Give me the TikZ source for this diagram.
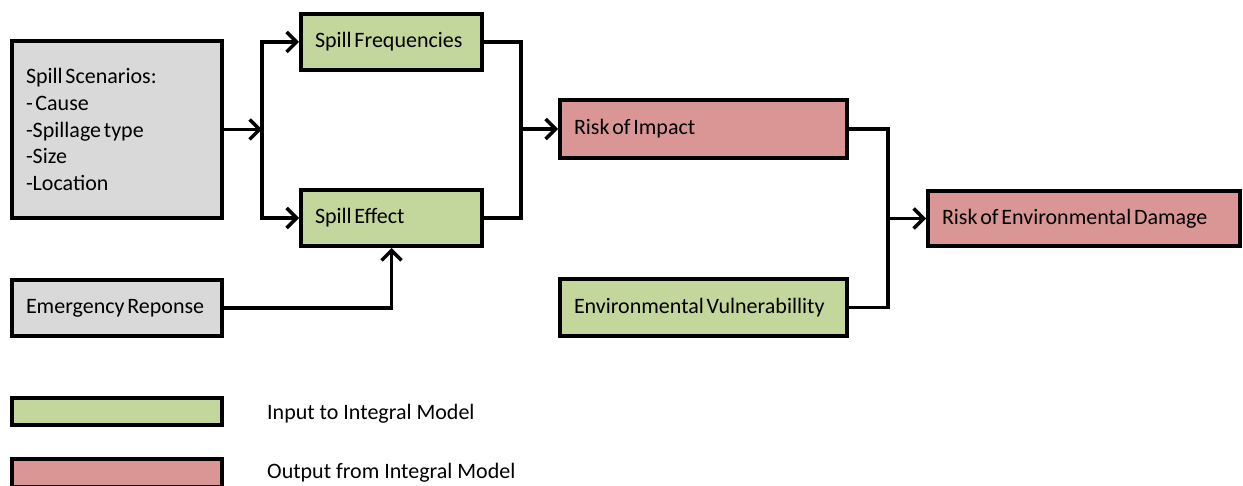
\documentclass[tikz,border=0pt]{standalone}
\usepackage{fontspec}
\setmainfont{Carlito}[WordSpace=0.55]
\newfontfamily\legendfont{Carlito}
\usetikzlibrary{arrows.meta}
\definecolor{boxgrey}{HTML}{D9D9D9}
\definecolor{boxgreen}{HTML}{C3D69B}
\definecolor{boxred}{HTML}{D99694}
\tikzset{
  box/.style={draw=black, line width=4pt, inner xsep=14pt, inner ysep=0pt,
    align=flush left, font=\fontsize{22}{26.7}\selectfont},
  inbox/.style={box, fill=boxgreen},
  outbox/.style={box, fill=boxred},
  srcbox/.style={box, fill=boxgrey},
  link/.style={line width=3.4pt, line join=miter},
  arr/.style={link, -{Straight Barb[length=10pt,width=20pt]}},
  legendtext/.style={anchor=west, inner sep=0pt, font=\legendfont\fontsize{22}{26.7}\selectfont}
}
\begin{document}
\begin{tikzpicture}[x=1pt,y=-1pt]
\useasboundingbox (0,0) rectangle (1243,486);

% sources
\node[srcbox, minimum width=210pt, minimum height=177pt, text width=182pt] (SS) at (117,129.5)
  {Spill Scenarios:\\- Cause\\-Spillage type\\-Size\\-Location};
\node[srcbox, minimum width=210pt, minimum height=56pt, text width=182pt] (ER) at (117,308)
  {Emergency Reponse};

% model inputs
\node[inbox, minimum width=181pt, minimum height=56pt, text width=153pt] (SF) at (391.5,42)
  {Spill Frequencies};
\node[inbox, minimum width=181pt, minimum height=56pt, text width=153pt] (SE) at (391.5,218)
  {Spill Effect};
\node[inbox, minimum width=287pt, minimum height=57pt, text width=259pt] (EV) at (703.5,307.5)
  {Environmental Vulnerabillity};

% model outputs
\node[outbox, minimum width=287pt, minimum height=58pt, text width=259pt] (RI) at (703.5,129)
  {Risk of Impact};
\node[outbox, minimum width=312pt, minimum height=55pt, text width=284pt] (RD) at (1084,218.5)
  {Risk of Environmental Damage};

% junction points
\coordinate (j1) at (262,129.5);
\coordinate (j2) at (521,129);
\coordinate (j3) at (888,218.5);

% connectors
\draw[arr] (SS.east) -- (j1);
\draw[arr] (j1) |- (SF.west);
\draw[arr] (j1) |- (SE.west);
\draw[link] (SF.east) -| (j2);
\draw[link] (SE.east) -| (j2);
\draw[arr] (j2) -- (RI.west);
\draw[arr] (ER.east) -| (SE.south);
\draw[link] (RI.east) -| (j3);
\draw[link] (EV.east) -| (j3);
\draw[arr] (j3) -- (RD.west);

% legend
\node[inbox, minimum width=210pt, minimum height=27pt, text width=182pt] (LG) at (117,411.5) {};
\node[outbox, minimum width=210pt, minimum height=28pt, text width=182pt] (LR) at (117,473) {};
\node[legendtext] (LGt) at (267,414) {Input to Integral Model};
\node[legendtext] (LRt) at (267,473) {Output from Integral Model};
\end{tikzpicture}
\end{document}
